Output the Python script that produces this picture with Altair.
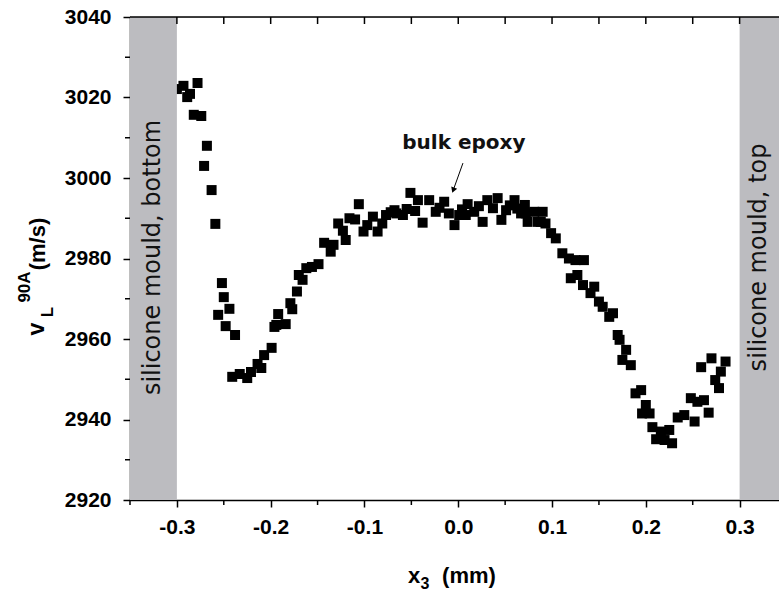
import altair as alt
import pandas as pd

# ---- data ----
x_mm = [
    -0.300, -0.293, -0.289, -0.286, -0.278, -0.282, -0.274, -0.268, -0.271, -0.263,
    -0.259, -0.252, -0.250, -0.244, -0.256, -0.248, -0.238,
    -0.241, -0.233, -0.225, -0.221, -0.214, -0.210, -0.207, -0.199, -0.196, -0.192,
    -0.194, -0.184, -0.179, -0.177, -0.172, -0.170, -0.166, -0.162, -0.156, -0.149,
    -0.143, -0.136, -0.133, -0.120, -0.128, -0.123, -0.116, -0.110, -0.106, -0.101,
    -0.097, -0.091, -0.086, -0.081, -0.077, -0.068, -0.072,
    -0.066, -0.059, -0.055, -0.051, -0.046, -0.043, -0.038, -0.031, -0.024, -0.020,
    -0.015, -0.010, -0.004, 0.001, 0.004, 0.008, 0.010, 0.017, 0.022, 0.026,
    0.031, 0.037, 0.042, 0.046, 0.051, 0.055, 0.060, 0.063, 0.067, 0.071,
    0.072, 0.074, 0.081, 0.085, 0.088, 0.090, 0.093, 0.099, 0.104, 0.111,
    0.118, 0.125, 0.134, 0.120, 0.127, 0.133, 0.145, 0.141, 0.150, 0.154,
    0.165, 0.161, 0.170, 0.172, 0.179, 0.175, 0.184,
    0.189, 0.195, 0.200, 0.196, 0.204, 0.207, 0.216, 0.225, 0.211, 0.220,
    0.228, 0.234, 0.241, 0.252, 0.248, 0.255, 0.262, 0.267, 0.259, 0.270,
    0.274, 0.278, 0.280, 0.285,
]
v_ms = [
    3022.1, 3022.9, 3020.1, 3020.9, 3023.6, 3015.7, 3015.4, 3008.0, 3003.0, 2997.0,
    2988.6, 2973.9, 2970.4, 2967.5, 2966.0, 2963.2, 2961.0,
    2950.6, 2951.3, 2950.3, 2951.8, 2953.8, 2952.8, 2956.0, 2957.8, 2963.0, 2966.2,
    2963.5, 2963.7, 2968.9, 2967.4, 2971.8, 2975.9, 2974.7, 2977.6, 2977.9, 2978.6,
    2983.9, 2981.7, 2983.4, 2984.6, 2988.7, 2986.9, 2990.0, 2989.7, 2993.5, 2986.7,
    2988.3, 2990.4, 2986.7, 2988.7, 2990.8, 2992.0, 2991.5,
    2991.2, 2990.8, 2992.3, 2996.3, 2991.8, 2994.5, 2988.9, 2994.5, 2991.6, 2992.6,
    2994.1, 2991.2, 2988.3, 2990.8, 2992.2, 2990.8, 2993.5, 2991.6, 2993.0, 2989.1,
    2994.5, 2992.5, 2995.0, 2989.6, 2992.0, 2993.2, 2994.5, 2992.4, 2991.2, 2993.3,
    2991.2, 2989.1, 2991.6, 2989.1, 2989.1, 2991.6, 2988.7, 2986.3, 2985.0, 2981.3,
    2980.0, 2979.6, 2979.6, 2975.1, 2975.9, 2973.4, 2973.0, 2971.4, 2969.3, 2968.0,
    2966.4, 2965.5, 2961.0, 2959.8, 2957.3, 2954.8, 2953.5,
    2946.5, 2947.3, 2943.6, 2941.5, 2941.5, 2938.1, 2937.0, 2937.4, 2935.1, 2934.9,
    2934.1, 2940.5, 2941.1, 2939.5, 2945.3, 2944.4, 2944.8, 2941.7, 2953.0, 2955.2,
    2949.8, 2947.8, 2951.9, 2954.4,
]

x_domain = [-0.35, 0.342]
y_domain = [2920, 3040]
x_major = [-0.3, -0.2, -0.1, 0.0, 0.1, 0.2, 0.3]
x_minor = [-0.35, -0.25, -0.15, -0.05, 0.05, 0.15, 0.25]
x_top_ticks = [-0.3, -0.25, -0.2, -0.15, -0.1, -0.05, 0.0, 0.05, 0.1, 0.15, 0.2, 0.25, 0.3]
y_major = [2920, 2940, 2960, 2980, 3000, 3020, 3040]
y_minor = [2930, 2950, 2970, 2990, 3010, 3030]

band_start = [-0.35, 0.30]
band_end = [-0.30, 0.342]
band_label_x = [-0.325, 0.321]
band_labels = ["silicone mould, bottom", "silicone mould, top"]

annot_text = ["bulk epoxy"]
annot_x = [0.006]
annot_y = [3008.7]
arrow_from = [0.005, 3003.7]
arrow_to = [-0.005, 2997.2]

W, H = 649, 483
BOLD = "Liberation Sans"

xs = alt.Scale(domain=x_domain, nice=False, zero=False)
ys = alt.Scale(domain=y_domain, nice=False, zero=False)

x_axis = alt.Axis(values=x_major,
                  labelExpr="(datum.value < -0.0001 ? '-' : '') + format(abs(datum.value), '.1f')",
                  labelFont=BOLD, labelFontWeight="bold",
                  labelFontSize=21, labelColor="black", tickColor="black", tickWidth=1.5,
                  tickSize=7, domainColor="black", domainWidth=1.5, labelPadding=9,
                  grid=False, labelFlush=False, title=None)
y_axis = alt.Axis(values=y_major, format="d", labelFont=BOLD, labelFontWeight="bold",
                  labelFontSize=21, labelColor="black", tickColor="black", tickWidth=1.5,
                  tickSize=7, domainColor="black", domainWidth=1.5, labelPadding=12,
                  grid=False, labelFlush=False, title=None)

pts = pd.DataFrame({"x": x_mm, "v": v_ms})
bands = pd.DataFrame({"x1": band_start, "x2": band_end, "xl": band_label_x, "label": band_labels})

points = alt.Chart(pts).mark_square(size=100, color="black", opacity=1).encode(
    x=alt.X("x:Q", scale=xs, axis=x_axis),
    y=alt.Y("v:Q", scale=ys, axis=y_axis),
)

band_rect = alt.Chart(bands).mark_rect(color="#bcbcc0").encode(
    x=alt.X("x1:Q", scale=xs, axis=x_axis),
    x2="x2:Q",
    y=alt.value(0),
    y2=alt.value(H),
)
band_text = alt.Chart(bands).mark_text(
    angle=270, font="DejaVu Sans", fontSize=24, color="#111111",
    align="center", baseline="middle",
).encode(
    x=alt.X("xl:Q", scale=xs, axis=x_axis),
    y=alt.value(H / 2 - 1),
    text="label:N",
)

# minor ticks & top frame ticks
xminor = alt.Chart(pd.DataFrame({"t": x_minor})).mark_rule(color="black", strokeWidth=1.5).encode(
    x=alt.X("t:Q", scale=xs, axis=x_axis), y=alt.value(H), y2=alt.value(H + 5))
yminor = alt.Chart(pd.DataFrame({"t": y_minor})).mark_rule(color="black", strokeWidth=1.5).encode(
    y=alt.Y("t:Q", scale=ys, axis=y_axis), x=alt.value(-5), x2=alt.value(0))
topticks = alt.Chart(pd.DataFrame({"t": x_top_ticks})).mark_rule(color="black", strokeWidth=1.5).encode(
    x=alt.X("t:Q", scale=xs, axis=x_axis), y=alt.value(0), y2=alt.value(7))
topline = alt.Chart(pd.DataFrame({"a": [0]})).mark_rule(color="black", strokeWidth=1.5).encode(
    x=alt.value(0), x2=alt.value(W), y=alt.value(0))

# annotation
annot = alt.Chart(pd.DataFrame({"x": annot_x, "y": annot_y, "t": annot_text})).mark_text(
    font="DejaVu Sans", fontWeight="bold", fontSize=20, color="#111111",
    align="center", baseline="middle").encode(
    x=alt.X("x:Q", scale=xs, axis=x_axis), y=alt.Y("y:Q", scale=ys, axis=y_axis), text="t:N")
arrow_df = pd.DataFrame({"x": [arrow_from[0]], "y": [arrow_from[1]],
                         "x2": [arrow_to[0]], "y2": [arrow_to[1]]})
arrow_line = alt.Chart(arrow_df).mark_rule(color="black", strokeWidth=1).encode(
    x=alt.X("x:Q", scale=xs, axis=x_axis), y=alt.Y("y:Q", scale=ys, axis=y_axis), x2="x2:Q", y2="y2:Q")
arrow_head = alt.Chart(arrow_df).mark_point(
    shape="triangle", filled=True, color="black", size=40, angle=201, opacity=1).encode(
    x=alt.X("x2:Q", scale=xs, axis=x_axis), y=alt.Y("y2:Q", scale=ys, axis=y_axis))

# axis titles built from text pieces (sub/superscripts)
def txt(s, x, y, size, angle=0, align="center"):
    return alt.Chart(pd.DataFrame({"s": [s]})).mark_text(
        font=BOLD, fontWeight="bold", fontSize=size, color="black", angle=angle,
        align=align, baseline="middle").encode(
        x=alt.value(x), y=alt.value(y), text="s:N")

ytitle = [
    txt("v", -93, 312, 23, 270),
    txt("L", -82, 295, 17, 270),
    txt("90A", -105, 270, 17, 270),
    txt("(m/s)", -92, 227, 22, 270),
]
xtitle = [
    txt("x", 284, 559, 22),
    txt("3", 295, 567, 16),
    txt("(mm)", 339, 559, 22),
]

chart = alt.layer(
    points, band_rect, band_text, xminor, yminor, topticks, topline,
    annot, arrow_line, arrow_head, *ytitle, *xtitle,
).properties(
    width=W, height=H,
    autosize=alt.AutoSizeParams(type="none"),
    padding={"left": 130, "top": 17, "right": 0, "bottom": 93},
).configure_view(stroke=None).configure(background="white")

chart.save("out.html", embed_options={"renderer": "svg", "actions": False})
